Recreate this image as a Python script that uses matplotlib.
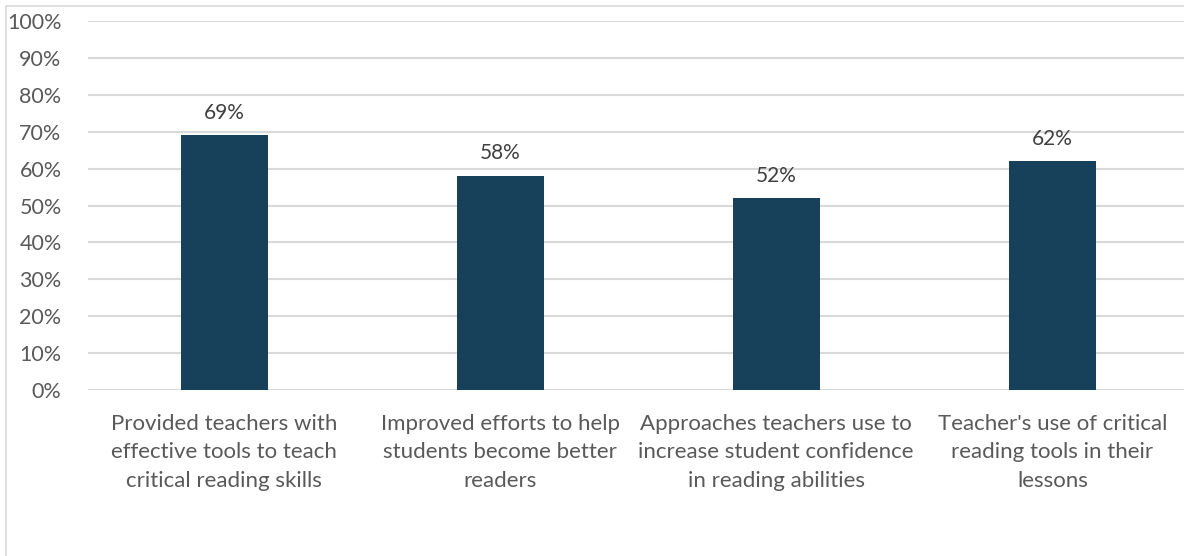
import matplotlib.pyplot as plt
from matplotlib.patches import Rectangle
from matplotlib.ticker import PercentFormatter

categories = [
    "Provided teachers with\neffective tools to teach\ncritical reading skills",
    "Improved efforts to help\nstudents become better\nreaders",
    "Approaches teachers use to\nincrease student confidence\nin reading abilities",
    "Teacher's use of critical\nreading tools in their\nlessons",
]
values = [69, 58, 52, 62]

plt.rcParams['font.family'] = ['Lato', 'DejaVu Sans']

fig = plt.figure(figsize=(11.84, 5.56), dpi=100)
ax = fig.add_axes([88 / 1184, 1 - 390 / 556, 1 - 88 / 1184, (390 - 21) / 556])

# chart area frame, only top and left edges fall inside the image
fig.patches.append(Rectangle((6 / 1184, -0.5), 2, 1.5 - 6 / 556,
                             transform=fig.transFigure, fill=False,
                             edgecolor='#d9d9d9', linewidth=1.2))

x = range(len(categories))
bars = ax.bar(x, values, width=0.315, color='#17415a', zorder=3)

for b, v in zip(bars, values):
    ax.annotate(f"{v}%", (b.get_x() + b.get_width() / 2, v),
                xytext=(0, 9), textcoords='offset points',
                ha='center', va='bottom', fontsize=15, color='#404040')

ax.set_ylim(0, 100)
ax.set_xlim(-0.493, 3.477)
ax.set_yticks(range(0, 101, 10))
ax.yaxis.set_major_formatter(PercentFormatter(decimals=0))
ax.set_xticks(list(x))
ax.set_xticklabels(categories, fontsize=16, color='#595959', linespacing=1.55)
ax.tick_params(axis='y', labelsize=15.5, labelcolor='#595959', length=0, pad=19)
ax.tick_params(axis='x', length=0, pad=17)
ax.grid(axis='y', color='#d9d9d9', linewidth=1.5, zorder=0)
for s in ax.spines.values():
    s.set_visible(False)

fig.savefig('out.png', dpi=100)
